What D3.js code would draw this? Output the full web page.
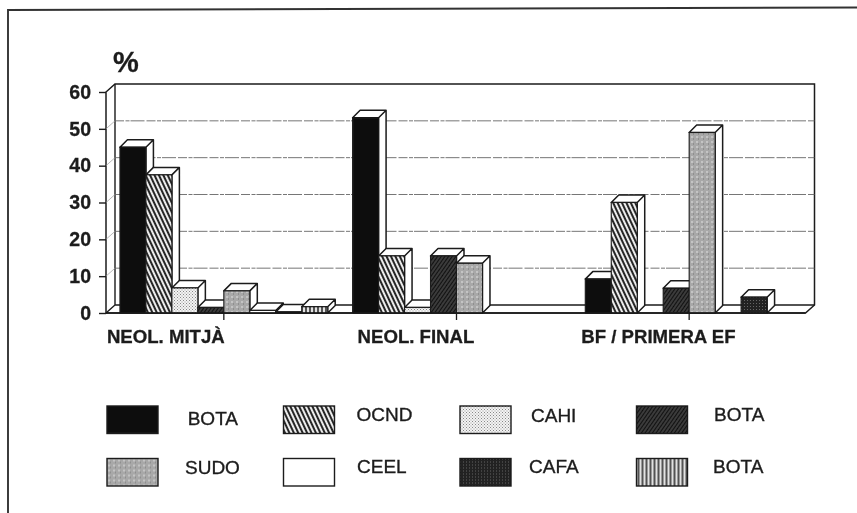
<!DOCTYPE html>
<html>
<head>
<meta charset="utf-8">
<script src="https://cdn.jsdelivr.net/npm/d3@7"></script>
<style>
  html, body { margin: 0; padding: 0; background: #fff; }
  text { font-family: "Liberation Sans", Arial, sans-serif; fill: #1c1c1c; }
  .label { font-weight: bold; stroke: #1c1c1c; stroke-width: 0.3px; }
  .legend-label { font-size: 19px; stroke: #1c1c1c; stroke-width: 0.35px; }
</style>
</head>
<body>
<div id="chart"></div>
<script>
// data
let categories = ["NEOL. MITJÀ", "NEOL. FINAL", "BF / PRIMERA EF"];
let seriesKeys = ["bota", "ocnd", "cahi", "bota2", "sudo", "ceel", "cafa", "bota3"];
let seriesNames = ["BOTA", "OCND", "CAHI", "BOTA", "SUDO", "CEEL", "CAFA", "BOTA"];
let neolMitja = [45, 37.5, 6.8, 1.5, 6, 0.7, 0.3, 1.7];
let neolFinal = [53, 15.5, 1.5, 15.5, 13.5, 0, 0, 0];
let bfPrimera = [9.2, 30, 0, 6.7, 49, 0, 4.3, 0];
let yTicks = [0, 10, 20, 30, 40, 50, 60];

let values = [neolMitja, neolFinal, bfPrimera];

// the labels were placed by hand in the original, so each has its own offset
let catLabelDx = [-13, 5, -4];
let legendLabelDx = [80.7, 73, 71, 77.5, 78, 73.5, 69, 76.5];
let legendLabelDy = [19, 15, 16, 15, 15.5, 14.5, 14.5, 14.5];

let width = 857, height = 513;
let depthX = 9, depthY = 8;
let barDepth = 7.5;

let svg = d3.select("#chart").append("svg")
    .attr("width", width)
    .attr("height", height)
    .style("display", "block");

let defs = svg.append("defs");

defs.append("filter").attr("id", "scan")
    .attr("x", 0).attr("y", 0).attr("width", 1).attr("height", 1)
    .append("feGaussianBlur").attr("stdDeviation", 0.6);

function pattern(id, w, h, bg, draw, rotate) {
    let p = defs.append("pattern")
        .attr("id", id)
        .attr("patternUnits", "userSpaceOnUse")
        .attr("width", w)
        .attr("height", h);
    if (rotate) p.attr("patternTransform", "rotate(" + rotate + ")");
    p.append("rect").attr("width", w).attr("height", h).attr("fill", bg);
    draw(p);
}

function stripes(p, w, h, color, sw) {
    p.append("line").attr("x1", w / 2).attr("x2", w / 2).attr("y1", 0).attr("y2", h)
        .attr("stroke", color).attr("stroke-width", sw);
}

pattern("p-ocnd", 4, 4, "#ececec", p => stripes(p, 4, 4, "#111", 1.8), -25);
pattern("p-bota2", 3, 3, "#555", p => stripes(p, 3, 3, "#111", 1.8), 35);
pattern("p-bota3", 4, 4, "#e2e2e2", p => stripes(p, 4, 4, "#222", 1.5));
pattern("p-cahi", 3, 3, "#f3f3f3", p => {
    p.append("rect").attr("width", 1).attr("height", 1).attr("fill", "#888");
    p.append("rect").attr("x", 1.5).attr("y", 1.5).attr("width", 1).attr("height", 1).attr("fill", "#999");
});
pattern("p-sudo", 5, 5, "#a8a8a8", p => {
    p.append("rect").attr("x", 1).attr("y", 1).attr("width", 2).attr("height", 2).attr("fill", "#c4c4c4");
    p.append("rect").attr("x", 3).attr("y", 3).attr("width", 1).attr("height", 2).attr("fill", "#8f8f8f");
});
pattern("p-cafa", 3, 3, "#202020", p => {
    p.append("rect").attr("width", 1).attr("height", 1).attr("fill", "#666");
});

let fills = d3.scaleOrdinal()
    .domain(seriesKeys)
    .range(["#111", "url(#p-ocnd)", "url(#p-cahi)", "url(#p-bota2)",
            "url(#p-sudo)", "#fff", "url(#p-cafa)", "url(#p-bota3)"]);

let x0 = d3.scaleBand()
    .domain(categories)
    .range([107.5, 805.5])
    .paddingInner(0.107)
    .paddingOuter(0.0535);

let x1 = d3.scaleBand()
    .domain(seriesKeys)
    .range([0, x0.bandwidth()]);

let y = d3.scaleLinear()
    .domain([0, 60])
    .range([313, 92]);

let root = svg.append("g").attr("filter", "url(#scan)");
root.append("rect").attr("width", width).attr("height", height).attr("fill", "#fff");

// frame
root.append("path")
    .attr("d", "M8,513V10L857,7.5")
    .attr("fill", "none")
    .attr("stroke", "#333")
    .attr("stroke-width", 1.9);

let ink = "#1a1a1a";
let left = x0.range()[0] - 1.5, right = x0.range()[1];

// back wall, side wall, floor
root.append("path")
    .attr("d", `M${left},${y(0)}V${y(60)}L${left + depthX},${y(60) - depthY}H${right + depthX}V${y(0) - depthY}L${right},${y(0)}H${left}`)
    .attr("fill", "#fff").attr("stroke", ink).attr("stroke-width", 1.5);
root.append("path")
    .attr("d", `M${left + depthX},${y(60) - depthY}V${y(0) - depthY}L${left},${y(0)}M${left + depthX},${y(0) - depthY}H${right + depthX}`)
    .attr("fill", "none").attr("stroke", ink).attr("stroke-width", 1.4);

// gridlines
let gridTicks = yTicks.filter(d => d > 0 && d < 60);
root.append("g").selectAll("line")
    .data(gridTicks)
    .join("line")
    .attr("x1", left + depthX).attr("x2", right + depthX)
    .attr("y1", d => y(d) - depthY).attr("y2", d => y(d) - depthY)
    .attr("stroke", "#666").attr("stroke-width", 0.9)
    .attr("stroke-dasharray", "9 1.5 4 1 14 2");
root.append("g").selectAll("line")
    .data(gridTicks)
    .join("line")
    .attr("x1", left).attr("x2", left + depthX)
    .attr("y1", d => y(d)).attr("y2", d => y(d) - depthY)
    .attr("stroke", "#999").attr("stroke-width", 0.7);

// y axis
let yAxis = root.append("g")
    .attr("transform", `translate(${left},0)`)
    .call(d3.axisLeft(y).tickValues(yTicks).tickSize(7).tickPadding(8));
yAxis.select(".domain").remove();
yAxis.selectAll("line").attr("stroke", ink).attr("stroke-width", 1.4);
yAxis.selectAll("text").attr("class", "label").style("font-size", "19.5px");

root.append("text")
    .attr("class", "label")
    .attr("x", 113).attr("y", 72)
    .style("font-size", "29px")
    .text("%");

root.append("g").selectAll("text")
    .data(categories)
    .join("text")
    .attr("class", "label")
    .attr("x", (d, i) => x0(d) + catLabelDx[i])
    .attr("y", 343)
    .style("font-size", "18.6px")
    .text(d => d);

// bars, left to right so the sides overlap properly
let barData = [];
categories.forEach((c, i) => {
    seriesKeys.forEach((k, j) => {
        if (values[i][j] > 0) barData.push({ cat: c, key: k, value: values[i][j] });
    });
});

let bars = root.append("g").selectAll("g")
    .data(barData)
    .join("g");

bars.append("path") // side and top
    .attr("d", d => {
        let a = x0(d.cat) + x1(d.key), w = x1.bandwidth(), t = y(d.value), b = y(0);
        return `M${a},${t}L${a + barDepth},${t - barDepth}H${a + w + barDepth}V${b - barDepth}L${a + w},${b}V${t}Z` +
               `M${a + w},${t}L${a + w + barDepth},${t - barDepth}`;
    })
    .attr("fill", "#fff")
    .attr("stroke", ink)
    .attr("stroke-width", 1.5)
    .attr("stroke-linejoin", "round");

bars.append("rect")
    .attr("x", d => x0(d.cat) + x1(d.key))
    .attr("y", d => y(d.value))
    .attr("width", x1.bandwidth())
    .attr("height", d => y(0) - y(d.value))
    .attr("fill", d => fills(d.key))
    .attr("stroke", ink)
    .attr("stroke-width", 1.1);

// redraw baseline on top
root.append("line")
    .attr("x1", left).attr("x2", right)
    .attr("y1", y(0)).attr("y2", y(0))
    .attr("stroke", ink).attr("stroke-width", 1.5);

// x axis: only the ticks in the middle of each group
root.append("g").selectAll("line")
    .data(categories)
    .join("line")
    .attr("x1", d => x0(d) + x0.bandwidth() / 2)
    .attr("x2", d => x0(d) + x0.bandwidth() / 2)
    .attr("y1", y(0)).attr("y2", y(0) + 7)
    .attr("stroke", ink).attr("stroke-width", 1.3);

// legend
let legendX = d3.scaleBand().domain([0, 1, 2, 3]).range([107, 813]);
let legendY = d3.scaleBand().domain([0, 1]).range([406, 511]);

let legend = root.append("g").selectAll("g")
    .data(d3.range(seriesKeys.length))
    .join("g")
    .attr("transform", d => `translate(${legendX(d % 4)},${legendY(Math.floor(d / 4))})`);

legend.append("rect")
    .attr("width", 51)
    .attr("height", 27.5)
    .attr("fill", d => fills(seriesKeys[d]))
    .attr("stroke", ink)
    .attr("stroke-width", 1.4);

legend.append("text")
    .attr("class", "legend-label")
    .attr("x", d => legendLabelDx[d])
    .attr("y", d => legendLabelDy[d])
    .text(d => seriesNames[d]);
</script>
</body>
</html>
